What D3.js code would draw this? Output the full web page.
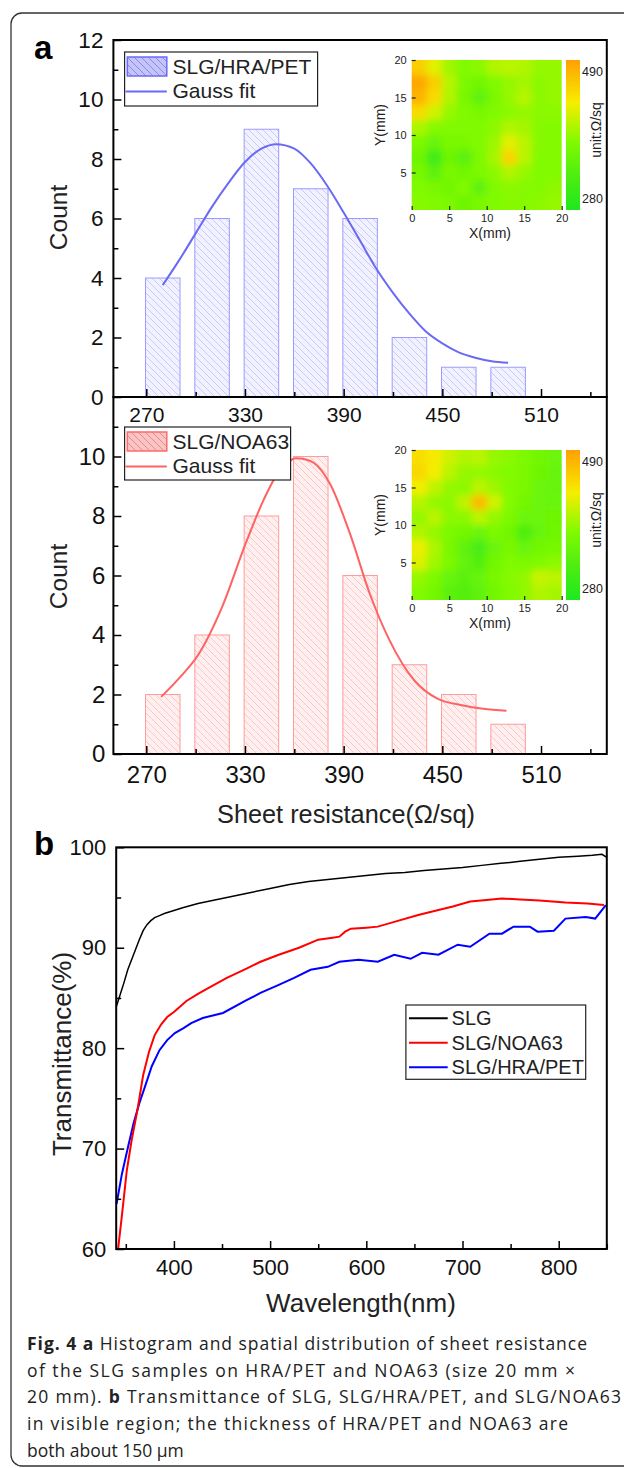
<!DOCTYPE html>
<html>
<head>
<meta charset="utf-8">
<script src="https://cdn.jsdelivr.net/npm/d3@7"></script>
<style>
  body { margin: 0; background: #fff; }
  svg { display: block; font-family: "Liberation Sans", Arial, sans-serif; }
  .cap { font-family: "Open Sans", sans-serif; font-size: 17.5px; fill: #222; }
</style>
</head>
<body>
<svg id="fig" width="624" height="1468"></svg>
<script>
//histogram data
let binCenters = [280, 310, 340, 370, 400, 430, 460, 490];
let countsHRA = [4, 6, 9, 7, 6, 2, 1, 1];
let countsNOA = [2, 4, 8, 10, 6, 3, 2, 1];
let histTicks = [270, 330, 390, 450, 510];
let histMinor = [300, 360, 420, 480, 540];

//gauss fit curves
let fitHRAx = [280, 290, 300, 310, 320, 330, 340, 349, 360, 370, 380, 390, 400, 410, 420, 430, 440, 450, 460, 470, 480, 490];
let fitHRAy = [3.76, 4.6, 5.5, 6.4, 7.2, 7.9, 8.35, 8.5, 8.35, 7.85, 7.1, 6.2, 5.25, 4.3, 3.5, 2.8, 2.2, 1.8, 1.5, 1.32, 1.2, 1.15];
let fitNOAx = [279, 290, 302, 316, 331, 341, 350, 356, 361, 367, 372, 382, 394, 406, 418, 433, 447, 462, 475, 489];
let fitNOAy = [1.92, 2.55, 3.37, 4.93, 7.16, 8.5, 9.44, 9.8, 9.94, 9.9, 9.78, 9.05, 7.38, 5.37, 3.81, 2.47, 1.86, 1.64, 1.52, 1.45];

//sheet resistance maps (ohm/sq), 10x10 cells of 2 mm, first row is the top (y = 20 mm)
let mapHRA = [
  [455, 420, 390, 375, 380, 398, 402, 398, 385, 385],
  [485, 455, 400, 370, 362, 375, 385, 392, 380, 385],
  [475, 445, 398, 368, 345, 368, 385, 400, 380, 385],
  [445, 412, 385, 375, 368, 375, 380, 385, 380, 380],
  [395, 378, 375, 375, 375, 380, 398, 392, 378, 376],
  [372, 352, 368, 368, 375, 388, 420, 402, 378, 376],
  [358, 315, 358, 342, 370, 392, 450, 402, 376, 376],
  [368, 342, 368, 362, 372, 380, 398, 385, 376, 376],
  [375, 368, 362, 375, 345, 375, 380, 378, 376, 382],
  [378, 375, 370, 358, 368, 375, 378, 378, 380, 385]
];
let mapNOA = [
  [442, 432, 412, 398, 402, 385, 380, 372, 362, 356],
  [448, 428, 402, 385, 385, 380, 376, 370, 358, 352],
  [428, 405, 385, 380, 402, 388, 376, 368, 356, 352],
  [400, 385, 380, 405, 470, 412, 376, 365, 356, 355],
  [385, 402, 380, 380, 402, 385, 370, 356, 356, 358],
  [398, 385, 372, 362, 356, 370, 362, 328, 352, 360],
  [425, 396, 368, 345, 322, 356, 368, 352, 362, 366],
  [418, 390, 372, 350, 335, 362, 374, 370, 374, 380],
  [385, 372, 352, 340, 352, 368, 378, 384, 408, 402],
  [376, 365, 340, 335, 346, 362, 375, 382, 398, 392]
];
let mapTicks = [0, 5, 10, 15, 20];
let colorDomain = [280, 330, 375, 430, 490];
let colorRange = ["#1ee81e", "#50ee10", "#80fa00", "#f6ee00", "#ffa000"];

//transmittance spectra
let wlSLG = [340, 344, 348, 352, 356, 360, 364, 368, 372, 376, 380, 385, 390, 400, 410, 425, 440, 460, 480, 500, 520, 540, 560, 580, 600, 620, 640, 660, 680, 700, 720, 740, 760, 780, 800, 820, 835, 845, 850];
let tSLG = [84.1, 85.3, 86.5, 87.8, 88.8, 89.8, 90.8, 91.7, 92.3, 92.7, 93.0, 93.2, 93.4, 93.7, 94.0, 94.4, 94.7, 95.1, 95.5, 95.9, 96.3, 96.6, 96.8, 97.0, 97.2, 97.4, 97.5, 97.7, 97.85, 98.0, 98.2, 98.4, 98.6, 98.8, 99.0, 99.1, 99.2, 99.3, 99.0];
let wlNOA = [342, 346, 351, 356, 362, 368, 374, 380, 387, 393, 400, 413, 425, 438, 455, 476, 490, 509, 530, 550, 565, 572, 578, 584, 600, 612, 630, 654, 675, 690, 708, 725, 741, 760, 780, 807, 830, 847];
let tNOA = [60, 63.4, 67.8, 70.8, 73.8, 77.3, 79.6, 81.3, 82.4, 83.1, 83.6, 84.7, 85.4, 86.1, 87.0, 87.95, 88.6, 89.3, 90.0, 90.8, 91.0, 91.1, 91.6, 91.9, 92.0, 92.1, 92.6, 93.25, 93.75, 94.1, 94.6, 94.75, 94.9, 94.8, 94.7, 94.5, 94.4, 94.25];
let wlHRA = [340.4, 346, 352.4, 358, 364, 370, 377, 385, 393, 401, 410, 418, 430, 451, 476, 490, 509, 525, 542, 560, 572, 592, 612, 629, 646, 658, 675, 695, 708, 728, 741, 753, 770, 778, 795, 807, 828, 838, 849];
let tHRA = [64.5, 67.5, 70.2, 72.5, 74.5, 76.2, 78.2, 79.8, 80.8, 81.5, 82.0, 82.5, 83.0, 83.5, 84.8, 85.5, 86.3, 87.0, 87.8, 88.1, 88.6, 88.8, 88.6, 89.3, 88.9, 89.5, 89.3, 90.3, 90.1, 91.4, 91.4, 92.1, 92.1, 91.6, 91.7, 92.9, 93.05, 92.9, 94.25];
let specNames = ["SLG", "SLG/NOA63", "SLG/HRA/PET"];
let specColors = ["#000000", "#ff0000", "#0000ff"];

let svg = d3.select("#fig");
let defs = svg.append("defs");

//outer rounded frame
svg.append("rect")
  .attr("x", 11).attr("y", 13).attr("width", 680).attr("height", 1453).attr("rx", 11)
  .attr("fill", "none").attr("stroke", "#333").attr("stroke-width", 1.3);

//hatch patterns
function addHatch(id, bg, line, w) {
  let p = defs.append("pattern").attr("id", id)
    .attr("patternUnits", "userSpaceOnUse").attr("width", 7).attr("height", 7);
  p.append("rect").attr("width", 7).attr("height", 7).attr("fill", bg);
  p.append("path").attr("d", "M0,0L7,7M-1,6L1,8M6,-1L8,1")
    .attr("stroke", line).attr("stroke-width", w);
}
addHatch("hatchBlue", "#f1f1ff", "#b9b9f6", 0.7);
addHatch("hatchRed", "#ffefef", "#f6b9b9", 0.7);
addHatch("hatchBlueL", "#c4c4f8", "#7a7ae6", 0.8);
addHatch("hatchRedL", "#f8c4c4", "#e67a7a", 0.8);

//smoothing filter for the maps
defs.append("filter").attr("id", "smooth")
  .attr("x", "-10%").attr("y", "-10%").attr("width", "120%").attr("height", "120%")
  .append("feGaussianBlur").attr("stdDeviation", 3.6);

let color = d3.scaleLinear().domain(colorDomain).range(colorRange);

//colour bar gradient
let grad = defs.append("linearGradient").attr("id", "cbar")
  .attr("x1", 0).attr("y1", 1).attr("x2", 0).attr("y2", 0);
colorDomain.forEach(function(v) {
  grad.append("stop")
    .attr("offset", (v - 280) / (490 - 280))
    .attr("stop-color", color(v));
});

function styleAxis(g, size) {
  g.select(".domain").remove();
  g.selectAll("line").attr("stroke", "#000").attr("stroke-width", 1.5);
  g.selectAll("text").attr("font-size", size).attr("fill", "#111")
    .attr("font-family", "'Liberation Sans', Arial, sans-serif");
}

//histogram panel
function drawHist(cfg) {
  let left = 113.4, right = 606.8;
  let x = d3.scaleLinear().domain([250, 550]).range([left, right]);
  let y = d3.scaleLinear().domain([0, 12]).range([cfg.bottom, cfg.top]);
  let g = svg.append("g");

  //bars
  g.selectAll("rect.bar")
    .data(binCenters)
    .enter().append("rect")
    .attr("class", "bar")
    .attr("x", function(d) { return x(d - 10.5); })
    .attr("width", x(21) - x(0))
    .attr("y", function(d, i) { return y(cfg.counts[i]); })
    .attr("height", function(d, i) { return y(0) - y(cfg.counts[i]); })
    .attr("fill", "url(#" + cfg.hatch + ")")
    .attr("stroke", cfg.barEdge).attr("stroke-width", 1);

  //gauss fit
  let line = d3.line()
    .x(function(d) { return x(d[0]); })
    .y(function(d) { return y(d[1]); })
    .curve(d3.curveMonotoneX);
  g.append("path")
    .datum(d3.zip(cfg.fitX, cfg.fitY))
    .attr("fill", "none").attr("stroke", cfg.fitColor).attr("stroke-width", 2)
    .attr("d", line);

  //axes
  let xMajor = g.append("g").attr("transform", "translate(0," + cfg.bottom + ")")
    .call(d3.axisBottom(x).tickValues(histTicks).tickSizeInner(-8).tickSizeOuter(0).tickPadding(cfg.xPad));
  styleAxis(xMajor, cfg.xFont);
  let xMinor = g.append("g").attr("transform", "translate(0," + cfg.bottom + ")")
    .call(d3.axisBottom(x).tickValues(histMinor).tickSizeInner(-5).tickSizeOuter(0).tickFormat(""));
  styleAxis(xMinor, 0);

  let yMajor = g.append("g").attr("transform", "translate(" + left + ",0)")
    .call(d3.axisLeft(y).tickValues(cfg.yTicks).tickSizeInner(-8).tickSizeOuter(0).tickPadding(cfg.yPad));
  styleAxis(yMajor, cfg.yFont);
  let yMinor = g.append("g").attr("transform", "translate(" + left + ",0)")
    .call(d3.axisLeft(y).tickValues([1, 3, 5, 7, 9, 11]).tickSizeInner(-5).tickSizeOuter(0).tickFormat(""));
  styleAxis(yMinor, 0);

  //frame
  g.append("rect")
    .attr("x", left).attr("y", cfg.top).attr("width", right - left).attr("height", cfg.bottom - cfg.top)
    .attr("fill", "none").attr("stroke", "#000").attr("stroke-width", 2);

  //y label
  g.append("text")
    .attr("transform", "translate(67," + cfg.labelY + ")rotate(-90)")
    .attr("text-anchor", "middle").attr("font-size", 24.5).attr("fill", "#222")
    .text("Count");

  //legend
  let lg = g.append("g");
  lg.append("rect")
    .attr("x", 124.6).attr("y", cfg.legTop).attr("width", cfg.legW).attr("height", cfg.legH)
    .attr("fill", "#fff").attr("stroke", "#222").attr("stroke-width", 1.2);
  lg.append("rect")
    .attr("x", 127.3).attr("y", cfg.legTop + 5).attr("width", 39.5).attr("height", 19)
    .attr("fill", "url(#" + cfg.hatchL + ")").attr("stroke", cfg.legEdge).attr("stroke-width", 1.5);
  lg.append("text").attr("x", 172.5).attr("y", cfg.legTop + 21.5)
    .attr("font-size", 21).attr("fill", "#222").text(cfg.name);
  lg.append("line")
    .attr("x1", 125.5).attr("x2", 166.8).attr("y1", cfg.legTop + 39.5).attr("y2", cfg.legTop + 39.5)
    .attr("stroke", cfg.fitColor).attr("stroke-width", 2);
  lg.append("text").attr("x", 172.5).attr("y", cfg.legTop + 45.5)
    .attr("font-size", 21).attr("fill", "#222").text("Gauss fit");
}

//inset map
function drawMap(grid, top, clipId) {
  let x = d3.scaleLinear().domain([0, 20]).range([411.7, 561.7]);
  let y = d3.scaleLinear().domain([0, 20]).range([top + 150, top]);
  let g = svg.append("g");

  defs.append("clipPath").attr("id", clipId)
    .append("rect").attr("x", x(0)).attr("y", y(20)).attr("width", x(20) - x(0)).attr("height", y(0) - y(20));

  let cells = [];
  grid.forEach(function(row, r) {
    row.forEach(function(v, c) {
      //edge cells reach past the border so the blur stays solid there
      let x0 = c === 0 ? -3 : c * 2, x1 = c === 9 ? 23 : c * 2 + 2;
      let y1 = r === 0 ? 23 : 20 - r * 2, y0 = r === 9 ? -3 : 20 - r * 2 - 2;
      cells.push({x0: x0, x1: x1, y0: y0, y1: y1, v: v});
    });
  });

  g.append("g").attr("clip-path", "url(#" + clipId + ")")
    .append("g").attr("filter", "url(#smooth)")
    .selectAll("rect").data(cells).enter().append("rect")
    .attr("x", function(d) { return x(d.x0); })
    .attr("y", function(d) { return y(d.y1); })
    .attr("width", function(d) { return x(d.x1) - x(d.x0) + 0.5; })
    .attr("height", function(d) { return y(d.y0) - y(d.y1) + 0.5; })
    .attr("fill", function(d) { return color(d.v); });

  //axes
  let ya = g.append("g").attr("transform", "translate(" + x(0) + ",0)")
    .call(d3.axisLeft(y).tickValues(mapTicks.slice(1)).tickSizeInner(-4).tickSizeOuter(0).tickPadding(5));
  ya.select(".domain").remove();
  ya.selectAll("line").attr("stroke", "#222").attr("stroke-width", 1.2);
  ya.selectAll("text").attr("font-size", 11).attr("fill", "#222");
  let xa = g.append("g").attr("transform", "translate(0," + y(0) + ")")
    .call(d3.axisBottom(x).tickValues(mapTicks).tickSizeInner(-4).tickSizeOuter(0).tickPadding(4));
  xa.select(".domain").remove();
  xa.selectAll("line").attr("stroke", "#222").attr("stroke-width", 1.2);
  xa.selectAll("text").attr("font-size", 11).attr("fill", "#222");

  g.append("text").attr("x", 490).attr("y", y(0) + 28)
    .attr("text-anchor", "middle").attr("font-size", 14).attr("fill", "#222").text("X(mm)");
  g.append("text").attr("transform", "translate(385," + (y(10) - 10) + ")rotate(-90)")
    .attr("text-anchor", "middle").attr("font-size", 14).attr("fill", "#222").text("Y(mm)");

  //colour bar
  g.append("rect").attr("x", 566).attr("y", y(20)).attr("width", 14).attr("height", y(0) - y(20))
    .attr("fill", "url(#cbar)");
  g.append("text").attr("x", 582).attr("y", y(20) + 16).attr("font-size", 12.5).attr("fill", "#222").text("490");
  g.append("text").attr("x", 582).attr("y", y(0) - 7).attr("font-size", 12.5).attr("fill", "#222").text("280");
  g.append("text").attr("transform", "translate(601," + (y(10) - 5) + ")rotate(-90)")
    .attr("text-anchor", "middle").attr("font-size", 14).attr("fill", "#222").text("unit:Ω/sq");
}

drawHist({
  top: 40, bottom: 397, counts: countsHRA, fitX: fitHRAx, fitY: fitHRAy,
  hatch: "hatchBlue", hatchL: "hatchBlueL", barEdge: "#9c9cff", legEdge: "#6a6aff", fitColor: "#6a6af2",
  yTicks: [0, 2, 4, 6, 8, 10, 12], xPad: 10, xFont: 21, yPad: 10, yFont: 22.5,
  labelY: 217.5, legTop: 52, legW: 193, legH: 54, name: "SLG/HRA/PET"
});
drawHist({
  top: 397, bottom: 754, counts: countsNOA, fitX: fitNOAx, fitY: fitNOAy,
  hatch: "hatchRed", hatchL: "hatchRedL", barEdge: "#ff9c9c", legEdge: "#ff6a6a", fitColor: "#ff6262",
  yTicks: [0, 2, 4, 6, 8, 10], xPad: 12, xFont: 24, yPad: 8, yFont: 24,
  labelY: 576.5, legTop: 427, legW: 166, legH: 53, name: "SLG/NOA63"
});
drawMap(mapHRA, 60, "clipA");
drawMap(mapNOA, 450, "clipB");

svg.append("text").attr("x", 346).attr("y", 823).attr("text-anchor", "middle")
  .attr("font-size", 25.3).attr("fill", "#222").text("Sheet resistance(Ω/sq)");

//transmittance panel
let bLeft = 116.2, bRight = 606.8, bTop = 847.3, bBottom = 1249;
let xT = d3.scaleLinear().domain([340, 850]).range([bLeft, bRight]);
let yT = d3.scaleLinear().domain([60, 100]).range([bBottom, bTop]);
let gb = svg.append("g");

let specLine = d3.line()
  .x(function(d) { return xT(d[0]); })
  .y(function(d) { return yT(d[1]); });
let specData = [d3.zip(wlSLG, tSLG), d3.zip(wlNOA, tNOA), d3.zip(wlHRA, tHRA)];
gb.append("g").selectAll("path")
  .data([specData[2], specData[1], specData[0]])
  .enter().append("path")
  .attr("fill", "none")
  .attr("stroke", function(d, i) { return [specColors[2], specColors[1], specColors[0]][i]; })
  .attr("stroke-width", function(d, i) { return i === 2 ? 1.5 : 2; })
  .attr("d", specLine);

let bx = gb.append("g").attr("transform", "translate(0," + bBottom + ")")
  .call(d3.axisBottom(xT).tickValues([400, 500, 600, 700, 800]).tickSizeInner(-8).tickSizeOuter(0).tickPadding(10));
styleAxis(bx, 22);
let bxm = gb.append("g").attr("transform", "translate(0," + bBottom + ")")
  .call(d3.axisBottom(xT).tickValues([350, 450, 550, 650, 750, 850]).tickSizeInner(-5).tickSizeOuter(0).tickFormat(""));
styleAxis(bxm, 0);
let by = gb.append("g").attr("transform", "translate(" + bLeft + ",0)")
  .call(d3.axisLeft(yT).tickValues([60, 70, 80, 90, 100]).tickSizeInner(-8).tickSizeOuter(0).tickPadding(10));
styleAxis(by, 22);
let bym = gb.append("g").attr("transform", "translate(" + bLeft + ",0)")
  .call(d3.axisLeft(yT).tickValues([65, 75, 85, 95]).tickSizeInner(-5).tickSizeOuter(0).tickFormat(""));
styleAxis(bym, 0);

gb.append("rect")
  .attr("x", bLeft).attr("y", bTop).attr("width", bRight - bLeft).attr("height", bBottom - bTop)
  .attr("fill", "none").attr("stroke", "#000").attr("stroke-width", 2);

gb.append("text").attr("transform", "translate(71,1054)rotate(-90)")
  .attr("text-anchor", "middle").attr("font-size", 26).attr("fill", "#222").text("Transmittance(%)");
gb.append("text").attr("x", 361).attr("y", 1312)
  .attr("text-anchor", "middle").attr("font-size", 26).attr("fill", "#222").text("Wavelength(nm)");

//legend b
let lb = gb.append("g");
lb.append("rect").attr("x", 405.9).attr("y", 1005).attr("width", 179.8).attr("height", 74.3)
  .attr("fill", "#fff").attr("stroke", "#222").attr("stroke-width", 1.2);
let legRows = lb.selectAll("g.row").data(specNames).enter().append("g")
  .attr("transform", function(d, i) { return "translate(0," + (1018.3 + i * 24.5) + ")"; });
legRows.append("line").attr("x1", 409).attr("x2", 447.7).attr("y1", 0).attr("y2", 0)
  .attr("stroke", function(d, i) { return specColors[i]; }).attr("stroke-width", 2);
legRows.append("text").attr("x", 451.6).attr("y", 7).attr("font-size", 20).attr("fill", "#222")
  .text(function(d) { return d; });

//panel letters
svg.append("text").attr("x", 34).attr("y", 58.5).attr("font-size", 33).attr("font-weight", "bold").text("a");
svg.append("text").attr("x", 34).attr("y", 855).attr("font-size", 33).attr("font-weight", "bold").text("b");

//caption
let cap = svg.append("g").attr("class", "cap");
let l1 = cap.append("text").attr("x", 27).attr("y", 1350).attr("textLength", 560).attr("lengthAdjust", "spacing");
l1.append("tspan").attr("font-weight", "bold").text("Fig. 4 a");
l1.append("tspan").text(" Histogram and spatial distribution of sheet resistance");
cap.append("text").attr("x", 27).attr("y", 1376.7).attr("textLength", 548).attr("lengthAdjust", "spacing")
  .text("of the SLG samples on HRA/PET and NOA63 (size 20 mm ×");
let l3 = cap.append("text").attr("x", 27).attr("y", 1403.3).attr("textLength", 594).attr("lengthAdjust", "spacing");
l3.append("tspan").text("20 mm). ");
l3.append("tspan").attr("font-weight", "bold").text("b");
l3.append("tspan").text(" Transmittance of SLG, SLG/HRA/PET, and SLG/NOA63");
cap.append("text").attr("x", 27).attr("y", 1430).attr("textLength", 541).attr("lengthAdjust", "spacing")
  .text("in visible region; the thickness of HRA/PET and NOA63 are");
cap.append("text").attr("x", 27).attr("y", 1456.7).text("both about 150 μm");
</script>
</body>
</html>
